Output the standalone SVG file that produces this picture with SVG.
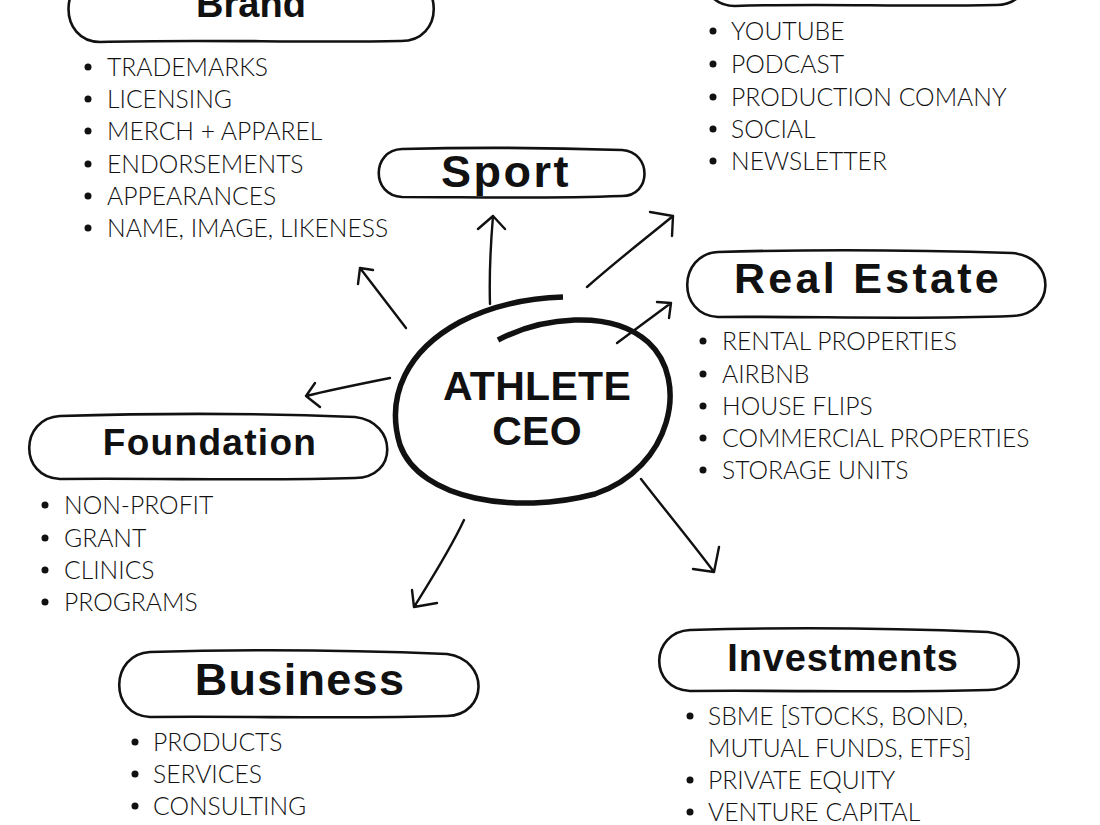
<svg xmlns="http://www.w3.org/2000/svg" width="1100" height="825" viewBox="0 0 1100 825">
<style>
.pill{fill:none;stroke:#111;stroke-width:2.6}
.h{font-family:"Liberation Sans",Arial,sans-serif;font-weight:bold;fill:#111;text-anchor:middle}
.t{font-family:Lato,"Liberation Sans",sans-serif;font-weight:300;font-size:24.7px;fill:#111}
.b{fill:#111}
.ar{fill:none;stroke:#111;stroke-width:2.4;stroke-linecap:round;stroke-linejoin:round}
</style>
<rect width="1100" height="825" fill="#fff"/>
<g id="brand">
<path class="pill" d="M100 -24 L400 -24 C445 -24 445 42 400 41 C300 43 200 39 100 42 C58 42 58 -24 100 -24 Z"/>
<text class="h" x="251" y="17" font-size="38">Brand</text>
<g class="b"><circle cx="88" cy="67" r="3.5"/><circle cx="88" cy="99" r="3.5"/><circle cx="88" cy="131" r="3.5"/><circle cx="88" cy="164" r="3.5"/><circle cx="88" cy="196" r="3.5"/><circle cx="88" cy="228" r="3.5"/></g>
<text class="t" x="107" y="76">TRADEMARKS</text>
<text class="t" x="107" y="108">LICENSING</text>
<text class="t" x="107" y="140">MERCH + APPAREL</text>
<text class="t" x="107" y="173">ENDORSEMENTS</text>
<text class="t" x="107" y="205">APPEARANCES</text>
<text class="t" x="107" y="237">NAME, IMAGE, LIKENESS</text>
</g>
<g id="media">
<path class="pill" d="M735 -60 L995 -60 C1040 -60 1040 6 995 5 C900 7 820 3 735 6 C692 6 692 -60 735 -60 Z"/>
<g class="b"><circle cx="713" cy="31" r="3.5"/><circle cx="713" cy="64" r="3.5"/><circle cx="713" cy="97" r="3.5"/><circle cx="713" cy="129" r="3.5"/><circle cx="713" cy="161" r="3.5"/></g>
<text class="t" x="731" y="40">YOUTUBE</text>
<text class="t" x="731" y="73">PODCAST</text>
<text class="t" x="731" y="106">PRODUCTION COMANY</text>
<text class="t" x="731" y="138">SOCIAL</text>
<text class="t" x="731" y="170">NEWSLETTER</text>
</g>
<g id="sport">
<path class="pill" d="M402 149 C480 147 560 148 622 150 C652 152 652 196 622 196 C540 199 470 197 402 197 C371 196 371 150 402 149 Z"/>
<text class="h" x="506" y="187" font-size="45" letter-spacing="2.5">Sport</text>
</g>
<g id="realestate">
<path class="pill" d="M718 252 C820 249 920 250 1012 253 C1058 257 1055 315 1012 316 C910 320 810 316 718 317 C676 315 678 254 718 252 Z"/>
<text class="h" x="868" y="293" font-size="43" letter-spacing="3.3">Real Estate</text>
<g class="b"><circle cx="703" cy="341" r="3.5"/><circle cx="703" cy="374" r="3.5"/><circle cx="703" cy="406" r="3.5"/><circle cx="703" cy="438" r="3.5"/><circle cx="703" cy="470" r="3.5"/></g>
<text class="t" x="722" y="350">RENTAL PROPERTIES</text>
<text class="t" x="722" y="383">AIRBNB</text>
<text class="t" x="722" y="415">HOUSE FLIPS</text>
<text class="t" x="722" y="447">COMMERCIAL PROPERTIES</text>
<text class="t" x="722" y="479">STORAGE UNITS</text>
</g>
<g id="foundation">
<path class="pill" d="M60 416 C160 413 260 413 355 417 C398 422 398 478 355 478 C260 481 160 478 60 479 C18 477 20 418 60 416 Z"/>
<text class="h" x="210" y="455" font-size="37" letter-spacing="1.3">Foundation</text>
<g class="b"><circle cx="45" cy="505" r="3.5"/><circle cx="45" cy="538" r="3.5"/><circle cx="45" cy="570" r="3.5"/><circle cx="45" cy="602" r="3.5"/></g>
<text class="t" x="64" y="514">NON-PROFIT</text>
<text class="t" x="64" y="547">GRANT</text>
<text class="t" x="64" y="579">CLINICS</text>
<text class="t" x="64" y="611">PROGRAMS</text>
</g>
<g id="business">
<path class="pill" d="M150 652 C250 649 350 650 447 654 C490 660 488 715 447 716 C350 719 250 716 150 717 C108 715 110 654 150 652 Z"/>
<text class="h" x="300" y="695" font-size="45" letter-spacing="1.3">Business</text>
<g class="b"><circle cx="135" cy="742" r="3.5"/><circle cx="135" cy="774" r="3.5"/><circle cx="135" cy="806" r="3.5"/></g>
<text class="t" x="153" y="751">PRODUCTS</text>
<text class="t" x="153" y="783">SERVICES</text>
<text class="t" x="153" y="815">CONSULTING</text>
</g>
<g id="investments">
<path class="pill" d="M690 630 C790 627 890 628 988 632 C1030 637 1028 690 988 690 C890 693 790 690 690 691 C648 689 650 632 690 630 Z"/>
<text class="h" x="843" y="671" font-size="38" letter-spacing="0.9">Investments</text>
<g class="b"><circle cx="690" cy="716" r="3.5"/><circle cx="690" cy="780" r="3.5"/><circle cx="690" cy="812" r="3.5"/></g>
<text class="t" x="708" y="725">SBME [STOCKS, BOND,</text>
<text class="t" x="708" y="757">MUTUAL FUNDS, ETFS]</text>
<text class="t" x="708" y="789">PRIVATE EQUITY</text>
<text class="t" x="708" y="821">VENTURE CAPITAL</text>
</g>
<g id="center">
<path fill="none" stroke="#111" stroke-width="5.5" stroke-linecap="butt" d="M498 340 C540 318 610 308 648 342 C690 380 672 468 595 494 C515 515 420 500 400 445 C385 395 408 350 460 322 C495 304 530 298 563 297"/>
<text class="h" x="537" y="400" font-size="41" letter-spacing="0.3">ATHLETE</text>
<text class="h" x="537" y="445" font-size="41" letter-spacing="0.3">CEO</text>
</g>
<g id="connectors" class="ar">
<path d="M406 328 L360 268 M373 270 L360 268 L358 284"/>
<path d="M390 378 C360 384 330 390 306 396 M315 383 L306 396 L320 407"/>
<path d="M490 304 C489 270 491 240 493 216 M478 229 L493 216 L505 229"/>
<path d="M587 287 C620 258 650 235 673 216 M650 212 L673 216 L672 236"/>
<path d="M617 343 L671 303 M657 302 L671 303 L669 318"/>
<path d="M641 479 C665 510 690 540 714 572 M693 569 L714 572 L719 547"/>
<path d="M464 520 C450 550 432 578 414 607 M412 590 L414 607 L437 603"/>
</g>
</svg>
